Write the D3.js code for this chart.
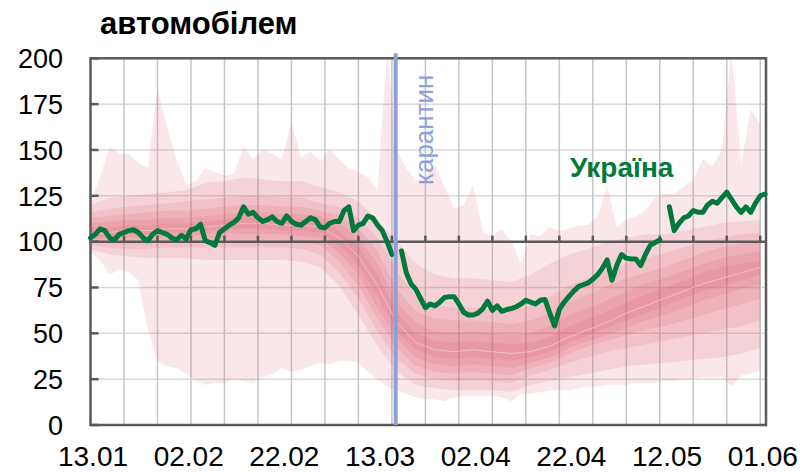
<!DOCTYPE html>
<html><head><meta charset="utf-8">
<script src="https://cdn.jsdelivr.net/npm/d3@7"></script>
<style>body{margin:0;background:#fff;} text{font-family:"Liberation Sans",Arial,sans-serif;}</style>
</head><body><svg id="c" width="804" height="472"></svg>
<script>
// ---------- DATA ----------
const title = "автомобілем";
const seriesName = "Україна";
const quarantineLabel = "карантин";
const startDay = "13.01.2020";
const quarantineDay = "17.03.2020";
const xTickLabels = ["13.01","02.02","22.02","13.03","02.04","22.04","12.05","01.06"];
const yTicks = [0,25,50,75,100,125,150,175,200];

// Ukraine, daily from 13.01 (null = no data)
const ukraine = [102,104,107,106,102,101,104,105,106,106.5,105,102,100.5,104,106,105,104,102,101,103.5,
101.5,106.5,107,109.5,100.5,99.5,98,105,107,109,110.5,113,119,115,116,113,111,112,113.5,111,
110,114,111,109.5,109,111,113,112,108,107.5,110,111,111,117,119,106,109,110,114,113,
109,106,100,93,null,95,83,77,74,69,64,66,65,67,69.5,70,70,66,61.5,60,
60,61,63.5,67.5,62.5,65,62,63,63.5,64.5,66,68,67,66,68,68.5,61,54,63,67,
70,73,75.5,76.5,77.5,79.5,82,85.5,90,79,87,93,91,90.5,90.5,87,93,98,99.5,101,
null,119,106,110,113,114,117,116,116,120,122,121,124,127,123,119,116,119,116,121,125,126];

// outer envelope (every 2 days from 13.01)
const outerMax = [122,135,152,148,148,143,140,184,162,145,131,133,140,138,136,137,152,145,150,148,
145,165,146,149,144,150,145,140,138,135,128,205,150,140,133,135,142,130,118,120,131,105,103,107,100,88,
104,103,108,106,107,109,109,114,130,108,112,114,117,124,126,126,130,134,145,141,150,205,142,172,164];
const outerMin = [94,90,82,85,83,79,52,35,32,31,28,24,22,23,23,25,24,23,26,28,31,29,30,32,34,33,35,35,
34,29,25,21,19,17,15,14,14,13,15,16,16,16,16,15,13,17,17,18,19,19,19,20,21,21,22,22,22,23,23,23,24,24,
25,25,26,26,26,21,27,28,30];

// inner percentile bands (every 4 days from 13.01)
const upper2 = [120,124,125,126,127,128,132,133,135,134,133,133,130,127,122,112,100,88,82,80,80,79,78,82,88,93,96,100,102,104,104,106,108,110,111,112];
const upper3 = [116,118,119,120,121,122,123,124,125,125,124,124,121,119,113,102,84,70,66,64,64,63,62,65,70,76,80,85,88,91,94,97,100,102,104,105];
const upper4 = [113,114,115,116,117,117,118,119,120,120,119,119,117,114,107,95,74,62,58,57,57,56,55,57,61,67,71,76,80,83,86,90,94,97,99,100];
const upper5 = [110,111,112,112,113,113,114,115,116,116,115,115,114,110,102,88,67,56,51,50,51,50,49,50,54,60,64,68,73,77,80,84,88,91,93,95];
const upper6 = [107,108,109,109,110,110,111,112,113,113,112,112,111,106,97,82,61,50,46,45,46,45,44,45,48,54,58,62,67,71,75,79,83,86,88,90];
const median = [104,105,106,106,107,107,108,109,110,110,109,109,108,102,92,76,56,45,41,40,41,40,39,40,43,48,52,56,61,65,69,73,77,80,83,86];
const lower6 = [102.5,103,104,104,105,105,106,107,107,107,106,106,105,98,87,70,51,41,37,36,37,36,35,37,40,45,49,53,57,61,65,69,73,76,79,82];
const lower5 = [101,101.5,102,102,103,103,104,105,104,104,104,103,102,94,82,64,47,37,33,32,33,32,31,34,37,42,46,49,53,57,60,64,68,71,74,77];
const lower4 = [100,99,99,99,100,100,101,101,101,101,101,100,98,89,76,58,42,32,29,28,29,28,27,31,34,39,43,46,49,52,54,57,60,63,66,69];
const lower3 = [98,96.5,96,96,97,97,97,97,97,97,97,96,93,83,69,51,36,28,25,24,24,24,23,27,30,34,37,40,42,44,46,48,50,52,54,57];
const lower2 = [96,93,92,91,91,91,90,90,90,90,90,89,86,76,60,43,29,22,20,19,19,19,18,22,24,26,28,30,32,33,34,35,36,37,39,42];

// ---------- CHART ----------
const svg = d3.select("#c");
const parse = d3.utcParse("%d.%m.%Y");
const start = parse(startDay);
const dayAt = d => d3.utcDay.offset(start, d);
const x = d3.scaleUtc().domain([start, new Date(+start + 141.2*864e5)]).range([90.5, 766]);
const y = d3.scaleLinear().domain([0, 200]).range([425, 58.3]);
const L = x.range()[0], R = x.range()[1], T = y(200), B = y(0);

svg.append("defs").append("clipPath").attr("id","clip")
  .append("rect").attr("x",L).attr("y",T).attr("width",R-L).attr("height",B-T);

// gridlines
svg.append("g").selectAll("line").data(yTicks.filter(v=>v!==0&&v!==200&&v!==100)).join("line")
  .attr("x1",L).attr("x2",R).attr("y1",d=>y(d)).attr("y2",d=>y(d))
  .attr("stroke","#d9d9d9").attr("stroke-width",1.5);
const weeks = d3.utcMonday.range(dayAt(1), dayAt(141));
svg.append("g").selectAll("line").data(weeks).join("line")
  .attr("x1",d=>x(d)).attr("x2",d=>x(d)).attr("y1",T).attr("y2",B)
  .attr("stroke","#c3c7cc").attr("stroke-width",1.5);

// fan bands
const bandFill = "rgba(222,82,106,0.14)";
const g = svg.append("g").attr("clip-path","url(#clip)");
function band(lo, hi, step){
  const pts = lo.map((v,i)=>({d:dayAt(i*step), lo:v, hi:hi[i]}));
  g.append("path").datum(pts).attr("fill",bandFill)
    .attr("d", d3.area().x(p=>x(p.d)).y0(p=>y(p.lo)).y1(p=>y(p.hi)));
}
band(outerMin, outerMax, 2);
band(lower2, upper2, 4);
band(lower3, upper3, 4);
band(lower4, upper4, 4);
band(lower5, upper5, 4);
band(lower6, upper6, 4);
g.append("path").datum(median.map((v,i)=>({d:dayAt(i*4),v})))
  .attr("fill","none").attr("stroke","rgba(255,255,255,0.35)").attr("stroke-width",1)
  .attr("d", d3.line().x(p=>x(p.d)).y(p=>y(p.v)));

// 100 axis line with ticks
const axisCol = "#595959";
svg.append("line").attr("x1",L).attr("x2",R).attr("y1",y(100)).attr("y2",y(100))
  .attr("stroke",axisCol).attr("stroke-width",2.5);
svg.append("g").selectAll("line").data(weeks).join("line")
  .attr("x1",d=>x(d)).attr("x2",d=>x(d)).attr("y1",y(100)-6).attr("y2",y(100))
  .attr("stroke",axisCol).attr("stroke-width",2.5);

// frame
svg.append("rect").attr("x",L).attr("y",T).attr("width",R-L).attr("height",B-T)
  .attr("fill","none").attr("stroke",axisCol).attr("stroke-width",2.5);
// y ticks (inside)
svg.append("g").selectAll("line").data(yTicks).join("line")
  .attr("x1",L).attr("x2",L+8).attr("y1",d=>y(d)).attr("y2",d=>y(d))
  .attr("stroke",axisCol).attr("stroke-width",2.5);

// Ukraine line
svg.append("path").datum(ukraine.map((v,i)=>({d:dayAt(i),v})))
  .attr("fill","none").attr("stroke","#00793d").attr("stroke-width",5)
  .attr("stroke-linejoin","round").attr("stroke-linecap","round")
  .attr("d", d3.line().defined(p=>p.v!=null).x(p=>x(p.d)).y(p=>y(p.v)));

// quarantine
const qx = x(parse(quarantineDay)) - 1;
const qCol = "#8fa0d6";
svg.append("line").attr("x1",qx).attr("x2",qx).attr("y1",T-5).attr("y2",B)
  .attr("stroke",qCol).attr("stroke-width",4);
svg.append("text").attr("transform",`translate(${qx+37},185) rotate(-90)`)
  .attr("fill",qCol).attr("font-size",26).text(quarantineLabel);

// labels
svg.append("g").selectAll("text").data(yTicks).join("text")
  .attr("x",63).attr("y",d=>y(d)+9.7).attr("text-anchor","end")
  .attr("font-size",27).attr("fill","#000").text(d=>d);
svg.append("g").selectAll("text").data(xTickLabels).join("text")
  .attr("x",d=>x(parse(d+".2020"))+2.5).attr("y",466).attr("text-anchor","middle")
  .attr("font-size",28).attr("fill","#000").text(d=>d);
svg.append("text").attr("x",100).attr("y",34).attr("font-size",31).attr("font-weight","bold")
  .attr("fill","#000").text(title);
svg.append("text").attr("x",570).attr("y",177).attr("font-size",28).attr("font-weight","bold")
  .attr("fill","#00793d").text(seriesName);
</script></body></html>
